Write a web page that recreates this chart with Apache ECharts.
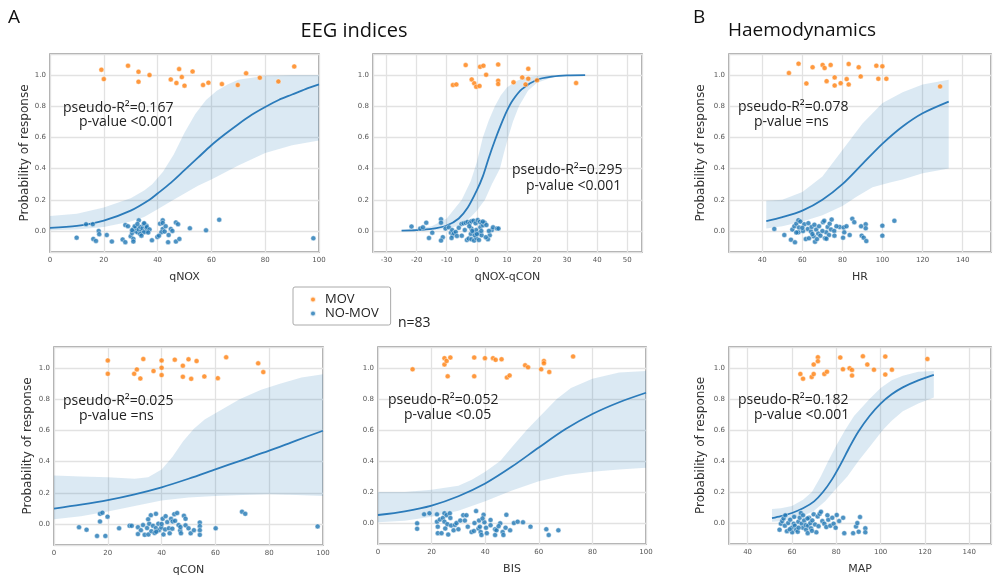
<!DOCTYPE html>
<html>
<head>
<meta charset="utf-8">
<script src="https://cdn.jsdelivr.net/npm/echarts@6/dist/echarts.min.js"></script>
<style>
  html, body { margin: 0; padding: 0; background: #fff; }
  #main { width: 995px; height: 580px; }
</style>
</head>
<body>
<div id="main"></div>
<script>
// ---- data: [x, jittered y] ----
// qNOX
var qnoxMov = [[19.1,1.034],[20.0,0.974],[29.0,1.06],[32.9,1.021],[32.9,0.957],[37.0,1.0],[44.9,0.972],[47.0,0.949],[48.0,1.038],[49.0,0.987],[50.0,0.932],[53.0,1.023],[56.9,0.936],[58.9,0.951],[63.9,0.942],[69.8,0.936],[72.9,1.011],[78.0,0.983],[84.9,0.959],[90.8,1.055]];
var qnoxNoMov = [[9.9,-0.043],[13.4,0.043],[15.9,0.043],[16.1,-0.051],[17.1,-0.064],[18.1,0.0],[18.3,-0.021],[21.1,-0.026],[23.0,-0.068],[27.0,-0.055],[28.0,-0.072],[28.0,0.038],[29.0,0.03],[30.0,-0.034],[30.5,-0.013],[31.0,0.013],[31.0,-0.051],[31.0,-0.068],[31.7,0.0],[32.0,0.021],[32.5,-0.009],[33.0,0.068],[33.0,0.009],[33.5,0.026],[34.0,0.0],[34.4,0.017],[34.9,0.043],[35.4,0.004],[35.9,0.034],[35.9,0.017],[35.9,0.0],[34.9,-0.009],[37.9,-0.06],[39.9,-0.038],[40.9,0.047],[41.9,0.068],[41.9,0.013],[41.4,-0.009],[41.9,0.051],[42.6,-0.004],[43.9,-0.072],[44.1,-0.026],[44.9,0.013],[46.8,0.055],[46.8,-0.068],[47.6,0.043],[48.1,-0.051],[52.0,0.017],[58.0,0.004],[62.9,0.072],[97.9,-0.047],[31.5,0.03],[33.5,-0.02],[35.0,0.05],[36.0,0.025],[34.0,-0.03],[40.5,-0.03],[45.5,0.0],[32.5,0.045],[30.5,0.005],[37.0,0.01],[43.0,0.03],[36.5,-0.01]];
var qnoxFit = [[0,0.02],[10,0.032],[20,0.066],[30,0.13],[37,0.2],[40,0.24],[45,0.31],[50,0.39],[55,0.47],[60,0.55],[65,0.62],[70,0.685],[75,0.745],[80,0.795],[85,0.84],[90,0.875],[95,0.91],[100,0.94]];
var qnoxUpper = [[0,0.096],[10,0.11],[20,0.15],[30,0.21],[35,0.26],[38,0.3],[42,0.38],[46,0.49],[50,0.63],[54,0.75],[58,0.84],[62,0.9],[66,0.94],[70,0.97],[80,0.995],[90,1.0],[100,1.0]];
var qnoxLower = [[0,0.004],[10,0.01],[20,0.025],[30,0.06],[35,0.09],[40,0.14],[45,0.19],[50,0.24],[55,0.29],[60,0.33],[70,0.42],[80,0.5],[90,0.55],[100,0.58]];

// qNOX-qCON
var diffMov = [[-7.95,0.936],[-6.8,0.94],[-3.7,1.064],[-1.7,0.972],[-0.86,0.947],[-0.2,0.925],[0.9,0.93],[1.1,1.053],[2.2,1.06],[3.1,1.002],[7.1,1.068],[7.1,0.964],[7.1,0.942],[12.2,0.953],[15.1,0.985],[16.2,0.94],[17.1,1.04],[17.1,0.977],[20.0,0.966],[33.0,0.949]];
var diffNoMov = [[-21.7,0.028],[-18.8,0.015],[-17.9,0.023],[-16.8,0.053],[-14.8,-0.011],[-15.9,-0.045],[-11.9,0.075],[-11.9,0.053],[-11.3,-0.04],[-11.9,-0.062],[-10.4,0.015],[-9.3,0.023],[-8.6,-0.011],[-8.2,0.006],[-8.0,-0.028],[-7.6,-0.015],[-7.0,-0.006],[-6.6,-0.032],[-8.4,-0.045],[-5.1,0.045],[-4.4,0.049],[-3.7,0.053],[-3.1,0.058],[-2.4,0.049],[-1.8,0.062],[-1.1,0.066],[-0.4,0.049],[0.3,0.07],[1.0,0.058],[1.6,0.049],[-3.3,-0.058],[-2.7,-0.049],[-1.8,-0.053],[-0.9,-0.062],[-0.2,-0.045],[0.7,-0.058],[-4.0,0.006],[-1.8,0.015],[-1.1,-0.006],[-0.2,0.006],[0.7,-0.015],[1.2,0.023],[1.6,-0.028],[2.1,0.036],[2.6,0.053],[3.2,0.038],[4.3,-0.028],[5.0,0.006],[5.4,0.023],[6.7,0.015],[7.2,0.015],[3.7,-0.053],[-2.0,-0.019],[-0.7,-0.028],[0.0,-0.02],[1.5,0.0],[-2.5,0.03],[3.0,-0.04],[-5.0,-0.03],[2.0,0.06],[-1.5,0.0],[4.0,0.0],[-6.0,0.02]];
var diffFit = [[-25,0.002],[-20,0.005],[-15,0.013],[-10,0.035],[-6,0.08],[-3,0.15],[0,0.26],[2,0.35],[4,0.47],[6,0.58],[8,0.68],[10,0.77],[12,0.84],[15,0.91],[20,0.97],[25,0.99],[30,0.998],[36,1.0]];
var diffUpper = [[-25,0.005],[-20,0.012],[-15,0.03],[-10,0.08],[-5,0.2],[-2,0.32],[0,0.44],[2,0.6],[4,0.71],[6,0.8],[8,0.87],[10,0.92],[13,0.96],[16,0.985],[20,0.995],[25,1.0],[36,1.0]];
var diffLower = [[-25,0.0],[-20,0.001],[-15,0.004],[-10,0.012],[-5,0.04],[-2,0.09],[0,0.13],[2.7,0.2],[5,0.3],[7.7,0.4],[9,0.5],[10.4,0.6],[12,0.7],[14,0.8],[17,0.9],[20,0.95],[25,0.985],[30,0.995],[36,1.0]];

// HR
var hrMov = [[53.3,1.013],[58.1,1.073],[62.0,0.946],[65.1,1.05],[70.1,1.065],[71.1,1.045],[72.1,0.961],[74.1,1.065],[76.1,0.985],[76.1,0.933],[79.1,0.948],[82.1,0.974],[83.1,1.071],[83.1,0.94],[88.1,1.05],[89.1,0.991],[96.9,1.06],[99.9,1.056],[97.9,0.976],[101.9,0.976],[128.7,0.927]];
var hrNoMov = [[46.0,0.013],[51.0,-0.026],[54.3,-0.056],[56.3,-0.073],[55.0,0.009],[56.0,0.03],[57.0,0.047],[58.0,0.069],[59.0,0.06],[58.3,0.022],[58.0,-0.009],[60.3,0.0],[61.0,0.043],[61.7,-0.052],[62.7,0.013],[63.3,-0.047],[64.3,-0.004],[64.6,0.026],[65.6,-0.034],[66.3,-0.069],[66.9,0.009],[67.3,-0.052],[67.9,-0.017],[68.3,0.03],[70.3,0.056],[70.9,0.065],[71.3,-0.047],[71.9,-0.009],[72.6,0.026],[73.3,-0.026],[73.6,0.047],[74.3,0.009],[74.6,0.073],[75.9,0.0],[78.6,0.026],[80.6,0.022],[80.3,-0.043],[80.9,-0.009],[83.6,-0.026],[84.9,0.078],[85.9,0.056],[89.3,0.03],[89.6,-0.03],[90.6,-0.043],[91.6,0.043],[91.6,0.017],[91.9,-0.065],[99.9,0.034],[99.9,-0.03],[105.9,0.065],[57,-0.01],[60,0.02],[63,0.05],[65,-0.02],[66,0.04],[69,-0.03],[70,0.0],[72,-0.05],[76,-0.03],[77,0.03],[82,0.03]];
var hrFit = [[42,0.063],[50,0.088],[60,0.13],[70,0.2],[80,0.3],[90,0.43],[100,0.56],[110,0.67],[120,0.755],[133,0.83]];
var hrUpper = [[42,0.194],[50,0.2],[60,0.25],[70,0.35],[80,0.52],[90,0.69],[100,0.82],[110,0.89],[120,0.94],[133,0.97]];
var hrLower = [[42,0.015],[50,0.03],[60,0.06],[70,0.1],[80,0.16],[87,0.22],[95,0.28],[103.7,0.31],[110,0.33],[120,0.37],[133,0.4]];

// qCON
var qconMov = [[20.0,1.049],[20.0,0.963],[29.8,0.963],[30.8,0.991],[32.1,0.933],[33.2,1.058],[37.0,0.981],[40.0,1.049],[40.0,1.002],[40.0,0.955],[44.9,1.054],[47.9,1.015],[47.9,0.944],[50.0,1.056],[51.0,0.931],[53.0,1.045],[55.9,0.946],[60.9,0.935],[64.0,1.069],[75.9,1.03],[77.8,0.974]];
var qconNoMov = [[9.3,-0.021],[12.1,-0.037],[16.0,-0.077],[19.1,-0.077],[17.1,0.065],[18.0,0.072],[17.1,0.016],[19.9,0.047],[24.2,-0.028],[28.1,-0.012],[28.9,-0.012],[31.2,-0.021],[31.2,-0.065],[32.3,-0.04],[33.1,-0.007],[33.7,-0.07],[34.6,-0.026],[35.1,-0.067],[35.4,0.002],[36.0,0.056],[36.2,-0.047],[36.8,-0.012],[37.4,-0.058],[37.9,0.065],[37.9,-0.026],[38.8,0.002],[39.0,-0.04],[39.9,-0.023],[40.4,0.033],[40.7,-0.067],[41.3,-0.035],[42.1,0.012],[42.7,-0.028],[43.0,-0.06],[43.5,0.033],[44.1,0.016],[44.7,0.063],[45.8,0.07],[46.3,-0.007],[46.9,-0.042],[47.2,-0.06],[48.3,0.053],[48.9,0.033],[48.9,-0.009],[50.0,-0.028],[50.8,-0.06],[54.2,0.009],[54.2,-0.014],[54.2,-0.04],[54.2,-0.07],[60.1,-0.028],[69.9,0.079],[71.1,0.065],[98.0,-0.016],[35,0.03],[38,-0.05],[40,0.0],[41.5,0.05],[44,-0.03],[45,0.02],[47,-0.02],[52,-0.04]];
var qconFit = [[0,0.099],[10,0.124],[20,0.153],[30,0.19],[40,0.235],[50,0.29],[60,0.35],[70,0.41],[80,0.47],[90,0.535],[100,0.598]];
var qconUpper = [[0,0.31],[10,0.305],[20,0.3],[30,0.29],[35,0.3],[40,0.35],[44,0.43],[48,0.53],[52,0.61],[56,0.67],[60,0.71],[69,0.8],[77,0.86],[84,0.9],[92,0.94],[100,0.96]];
var qconLower = [[0,0.03],[10,0.05],[20,0.08],[30,0.115],[40,0.15],[50,0.17],[60,0.18],[70,0.185],[80,0.19],[90,0.185],[100,0.18]];

// BIS
var bisMov = [[12.9,0.991],[24.8,1.063],[24.8,1.022],[25.6,1.045],[27.0,1.067],[26.0,0.946],[35.9,1.067],[35.9,0.946],[39.9,1.063],[42.9,1.063],[43.9,1.052],[46.1,1.056],[48.1,0.939],[49.1,0.952],[54.9,1.017],[56.0,1.004],[60.9,0.991],[61.9,1.045],[61.9,1.03],[63.9,0.974],[72.8,1.074]];
var bisNoMov = [[14.6,-0.002],[14.6,-0.037],[17.2,0.056],[19.2,0.063],[22.0,0.056],[22.0,0.009],[22.3,-0.023],[22.3,-0.065],[23.1,0.023],[23.7,-0.065],[24.2,0.033],[24.8,0.063],[24.8,0.009],[25.1,-0.035],[25.6,0.051],[25.9,-0.007],[26.2,-0.074],[26.8,0.063],[27.0,0.033],[27.3,-0.016],[28.2,-0.047],[28.7,-0.012],[29.3,0.0],[30.7,0.016],[31.8,0.051],[32.4,0.016],[33.5,-0.023],[34.9,-0.058],[35.8,-0.051],[36.6,0.077],[37.5,-0.035],[37.7,0.016],[38.0,-0.023],[38.3,-0.058],[38.6,-0.077],[39.4,0.053],[39.7,0.005],[40.3,-0.03],[40.6,-0.065],[42.0,-0.014],[43.7,-0.04],[43.7,-0.077],[44.2,-0.047],[45.6,-0.002],[46.5,-0.058],[46.8,-0.077],[47.6,-0.03],[47.9,0.053],[49.3,-0.047],[50.7,0.0],[52.1,0.009],[54.1,0.005],[56.9,-0.023],[62.8,-0.04],[63.7,-0.077],[67.3,-0.047],[30,-0.04],[33,0.05],[36,0.0],[39,0.03],[42,0.02],[45,-0.02]];
var bisFit = [[0,0.052],[10,0.076],[20,0.113],[30,0.173],[40,0.255],[50,0.364],[60,0.487],[70,0.606],[80,0.703],[90,0.779],[100,0.84]];
var bisUpper = [[0,0.2],[10,0.2],[20,0.215],[30,0.24],[35,0.28],[40,0.33],[45.6,0.4],[50,0.49],[55.5,0.6],[60,0.68],[66.7,0.8],[72,0.87],[80,0.93],[90,0.97],[100,0.98]];
var bisLower = [[0,0.005],[10,0.015],[20,0.04],[30,0.08],[40,0.14],[50,0.21],[60,0.27],[70,0.31],[80,0.33],[90,0.345],[100,0.357]];

// MAP
var mapMov = [[63.8,0.961],[65.0,0.931],[68.9,0.942],[69.8,1.022],[69.8,0.961],[71.7,1.069],[71.7,1.043],[74.6,0.961],[75.8,0.976],[81.8,1.067],[83.0,0.991],[86.0,0.998],[87.1,0.987],[87.1,0.951],[92.0,1.075],[94.0,1.022],[97.0,0.989],[102.1,1.073],[102.1,0.957],[105.1,0.989],[121.1,1.058]];
var mapNoMov = [[54.4,-0.043],[55.0,-0.004],[55.6,0.013],[56.2,0.03],[56.8,-0.017],[57.7,-0.052],[58.3,0.0],[59.2,0.022],[59.9,-0.03],[60.1,-0.06],[60.8,-0.004],[61.3,-0.017],[61.9,-0.043],[62.6,-0.056],[62.9,0.009],[63.5,0.034],[64.0,0.065],[64.4,-0.004],[65.0,-0.03],[65.5,0.017],[66.2,-0.013],[66.4,-0.043],[67.1,-0.065],[67.3,-0.017],[67.7,0.034],[68.3,0.0],[68.6,-0.034],[69.2,0.017],[69.8,0.056],[70.4,-0.009],[71.0,-0.06],[71.6,0.043],[72.5,0.06],[73.1,0.073],[73.7,0.013],[74.6,-0.004],[75.5,-0.026],[76.4,0.022],[77.3,-0.017],[78.2,0.034],[78.8,-0.004],[79.7,-0.03],[80.2,0.052],[81.3,0.013],[83.1,0.034],[83.6,-0.065],[87.6,-0.065],[88.9,-0.022],[89.5,0.0],[90.7,0.039],[90.1,-0.056],[93.1,-0.034],[93.1,-0.06],[57,0.05],[59,-0.04],[61,0.04],[63,-0.03],[65,0.05],[67,0.03],[69,-0.05],[72,-0.02],[76,0.05]];
var mapFit = [[51,0.032],[55,0.045],[60,0.065],[65,0.095],[70,0.14],[74,0.2],[78,0.28],[82,0.38],[86,0.49],[90,0.59],[95,0.69],[100,0.77],[105,0.83],[110,0.875],[117,0.92],[124,0.955]];
var mapUpper = [[51,0.09],[55,0.095],[60,0.11],[65,0.15],[69,0.2],[73,0.3],[76.4,0.4],[80,0.5],[84,0.6],[88,0.69],[95,0.8],[100,0.87],[105,0.92],[110,0.95],[117,0.975],[124,0.98]];
var mapLower = [[51,0.008],[55,0.012],[60,0.025],[65,0.045],[70,0.08],[75,0.14],[78.6,0.2],[85,0.3],[90,0.4],[95,0.49],[101,0.6],[105,0.66],[110,0.72],[117,0.77],[124,0.81]];

var panelNames = ['qNOX', 'qNOX-qCON', 'HR', 'qCON', 'BIS', 'MAP'];
var annotR2 = ['pseudo-R\u00b2=0.167', 'pseudo-R\u00b2=0.295', 'pseudo-R\u00b2=0.078', 'pseudo-R\u00b2=0.025', 'pseudo-R\u00b2=0.052', 'pseudo-R\u00b2=0.182'];
var annotP = ['p-value <0.001', 'p-value <0.001', 'p-value =ns', 'p-value =ns', 'p-value <0.05', 'p-value <0.001'];

// ---- layout ----
var panels = [
  {grid: {left: 50, top: 54, width: 269, height: 198}, x: [0, 100], ylab: true, yGap: 17,
   mov: qnoxMov, nomov: qnoxNoMov, fit: qnoxFit, up: qnoxUpper, lo: qnoxLower, t1: [63, 108], t2: [79, 122]},
  {grid: {left: 373, top: 54, width: 269, height: 198}, x: [-34.5, 54.9], split: 9, ylab: false,
   mov: diffMov, nomov: diffNoMov, fit: diffFit, up: diffUpper, lo: diffLower, t1: [512, 170], t2: [526, 186]},
  {grid: {left: 729, top: 54, width: 262, height: 198}, x: [23.4, 154.1], split: 6, ylab: true, yGap: 22,
   mov: hrMov, nomov: hrNoMov, fit: hrFit, up: hrUpper, lo: hrLower, t1: [738, 107], t2: [754, 122]},
  {grid: {left: 54, top: 347, width: 269, height: 198}, x: [0, 100], ylab: true, yGap: 20,
   mov: qconMov, nomov: qconNoMov, fit: qconFit, up: qconUpper, lo: qconLower, t1: [63, 401], t2: [79, 416]},
  {grid: {left: 378, top: 347, width: 268, height: 197}, x: [0, 100], ylab: false,
   mov: bisMov, nomov: bisNoMov, fit: bisFit, up: bisUpper, lo: bisLower, t1: [388, 400], t2: [404, 415]},
  {grid: {left: 729, top: 347, width: 262, height: 197}, x: [31.6, 149.8], split: 6, ylab: true, yGap: 22,
   mov: mapMov, nomov: mapNoMov, fit: mapFit, up: mapUpper, lo: mapLower, t1: [738, 400], t2: [754, 415]}
];

var blue = '#1f77b4', orange = '#ff7f0e';
var tickFont = {color: '#555', fontSize: 7, fontFamily: 'DejaVu Sans'};
var nameFont = {color: '#333', fontSize: 11, fontFamily: 'DejaVu Sans'};
var yNameFont = {color: '#333', fontSize: 12, fontFamily: 'DejaVu Sans'};

var grids = [], xAxes = [], yAxes = [], series = [], graphics = [];

panels.forEach(function (p, i) {
  grids.push(Object.assign({
    show: true, borderColor: '#8a8a8a', borderWidth: 1.4, backgroundColor: '#fff'
  }, p.grid));

  var fixed = p.x[0] === 0 && p.x[1] === 100;
  var xa = {
    gridIndex: i, type: 'value', min: p.x[0], max: p.x[1],
    name: panelNames[i], nameLocation: 'middle', nameGap: 20, nameTextStyle: nameFont,
    axisLine: {show: false}, axisTick: {show: false},
    axisLabel: Object.assign({margin: 5, showMinLabel: fixed, showMaxLabel: fixed}, tickFont),
    splitLine: {show: true, lineStyle: {color: '#e2e2e2', width: 1.3}}
  };
  if (fixed) xa.interval = 20; else xa.splitNumber = p.split;
  xAxes.push(xa);

  yAxes.push({
    gridIndex: i, type: 'value', min: -0.135, max: 1.135, splitNumber: 6,
    name: p.ylab ? 'Probability of response' : '', nameLocation: 'middle', nameGap: p.yGap || 20,
    nameTextStyle: yNameFont,
    axisLine: {show: false}, axisTick: {show: false},
    axisLabel: Object.assign({margin: 4, showMinLabel: false, showMaxLabel: false,
      formatter: function (v) { return v.toFixed(1); }}, tickFont),
    splitLine: {show: true, lineStyle: {color: '#e2e2e2', width: 1.3}}
  });

  // confidence band
  (function (up, lo) {
    series.push({
      type: 'custom', xAxisIndex: i, yAxisIndex: i, silent: true, z: 2,
      data: [up[0]],
      renderItem: function (params, api) {
        var pts = up.map(function (d) { return api.coord(d); })
          .concat(lo.slice().reverse().map(function (d) { return api.coord(d); }));
        return {type: 'polygon', shape: {points: pts},
          style: {fill: 'rgba(31,119,180,0.16)'}};
      }
    });
  })(p.up, p.lo);

  series.push({
    type: 'line', xAxisIndex: i, yAxisIndex: i, data: p.fit, smooth: 0.3,
    showSymbol: false, silent: true, z: 3, lineStyle: {color: '#2b7bba', width: 1.8}
  });
  series.push({
    name: 'MOV', type: 'scatter', xAxisIndex: i, yAxisIndex: i, data: p.mov, symbolSize: 5, z: 4,
    itemStyle: {color: orange, borderColor: '#fff', borderWidth: 0.5}
  });
  series.push({
    name: 'NO-MOV', type: 'scatter', xAxisIndex: i, yAxisIndex: i, data: p.nomov, symbolSize: 5, z: 4,
    itemStyle: {color: blue, borderColor: '#fff', borderWidth: 0.5}
  });

  graphics.push({type: 'text', x: p.t1[0], y: p.t1[1], z: 10,
    style: {text: annotR2[i], fill: '#222', font: '14px "Open Sans"', textVerticalAlign: 'middle'}});
  graphics.push({type: 'text', x: p.t2[0], y: p.t2[1], z: 10,
    style: {text: annotP[i], fill: '#222', font: '14px "Open Sans"', textVerticalAlign: 'middle'}});
});

graphics.push({type: 'text', x: 8, y: 18, style: {text: 'A', fill: '#111', font: '19px "Open Sans"', textVerticalAlign: 'middle'}});
graphics.push({type: 'text', x: 693, y: 18, style: {text: 'B', fill: '#111', font: '19px "Open Sans"', textVerticalAlign: 'middle'}});
graphics.push({type: 'text', x: 354, y: 31, style: {text: 'EEG indices', fill: '#111', font: '20px "Open Sans"', textAlign: 'center', textVerticalAlign: 'middle'}});
graphics.push({type: 'text', x: 802, y: 31, style: {text: 'Haemodynamics', fill: '#111', font: '19px "Open Sans"', textAlign: 'center', textVerticalAlign: 'middle'}});
graphics.push({type: 'text', x: 398, y: 323, style: {text: 'n=83', fill: '#222', font: '14px "Open Sans"', textVerticalAlign: 'middle'}});

var option = {
  backgroundColor: '#fff',
  animation: false,
  grid: grids,
  xAxis: xAxes,
  yAxis: yAxes,
  legend: {
    data: ['MOV', 'NO-MOV'], orient: 'vertical', left: 293, top: 287,
    icon: 'circle', itemWidth: 6, itemHeight: 6, itemGap: 1,
    padding: [6, 12, 5, 16], borderColor: '#aaa', borderWidth: 1, borderRadius: 2,
    textStyle: {color: '#222', fontSize: 13, fontFamily: 'Open Sans', padding: [0, 0, 0, 4]},
    selectedMode: false
  },
  series: series,
  graphic: graphics
};

var myChart = echarts.init(document.getElementById('main'));
myChart.setOption(option);
</script>
</body>
</html>
